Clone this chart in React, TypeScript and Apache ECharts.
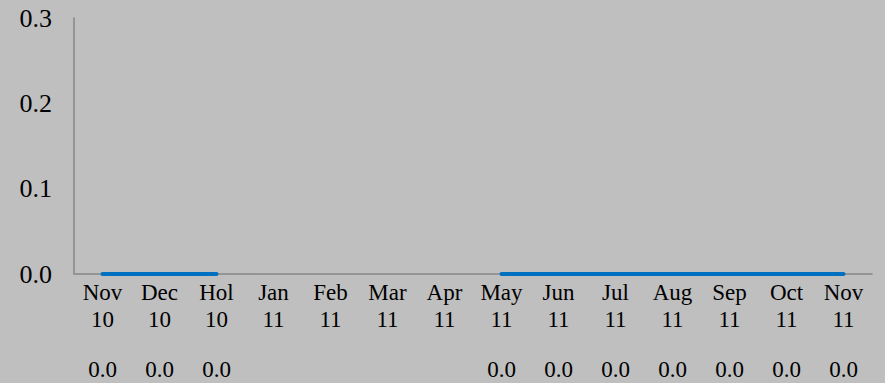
import React, { useEffect, useRef } from "react";
import * as echarts from "echarts";

const months = ["Nov", "Dec", "Hol", "Jan", "Feb", "Mar", "Apr", "May", "Jun", "Jul", "Aug", "Sep", "Oct", "Nov"];
const years = ["10", "10", "10", "11", "11", "11", "11", "11", "11", "11", "11", "11", "11", "11"];
const values: (number | null)[] = [0, 0, 0, null, null, null, null, 0, 0, 0, 0, 0, 0, 0];
const yTicks = [0, 0.1, 0.2, 0.3];

const categories = months.map((m, i) => `${m} ${years[i]}`);

export default function App() {
  const ref = useRef<HTMLDivElement>(null);
  useEffect(() => {
    if (!ref.current) return;
    const chart = echarts.init(ref.current, undefined, { renderer: "svg" });
    const font = "'Liberation Serif', 'Times New Roman', serif";
    chart.setOption({
      animation: false,
      backgroundColor: "#BFBFBF",
      grid: { left: 74, right: 13, top: 18, bottom: 109, containLabel: false },
      xAxis: {
        type: "category",
        data: categories,
        boundaryGap: true,
        axisLine: { show: true, lineStyle: { color: "#878787", width: 1.5 } },
        axisTick: { show: false },
        splitLine: { show: false },
        axisLabel: {
          interval: 0,
          margin: 5,
          fontFamily: font,
          fontSize: 23,
          color: "#000",
          lineHeight: 27,
          verticalAlign: "top",
          formatter: (_v: string, idx: number) => {
            const v = values[idx];
            let s = `{t|${months[idx]}}\n{t|${years[idx]}}`;
            if (v !== null && v !== undefined) s += `\n{s| }\n{t|${v.toFixed(1)}}`;
            return s;
          },
          rich: {
            t: { fontFamily: font, fontSize: 23, lineHeight: 27, color: "#000" },
            s: { fontFamily: font, fontSize: 10, lineHeight: 23, color: "#000" },
          },
        },
      },
      yAxis: {
        type: "value",
        min: yTicks[0],
        max: yTicks[yTicks.length - 1],
        interval: 0.1,
        axisLine: { show: true, lineStyle: { color: "#878787", width: 1.5 } },
        axisTick: { show: false },
        splitLine: { show: false },
        axisLabel: {
          margin: 22,
          fontFamily: font,
          fontSize: 26,
          color: "#000",
          formatter: (v: number) => v.toFixed(1),
        },
      },
      series: [
        {
          type: "line",
          data: values,
          connectNulls: false,
          symbol: "none",
          lineStyle: { color: "#0070C0", width: 4, cap: "round" },
        },
      ],
    });
    return () => chart.dispose();
  }, []);
  return <div ref={ref} style={{ position: "fixed", left: 0, top: 0, width: 885, height: 383 }} />;
}
